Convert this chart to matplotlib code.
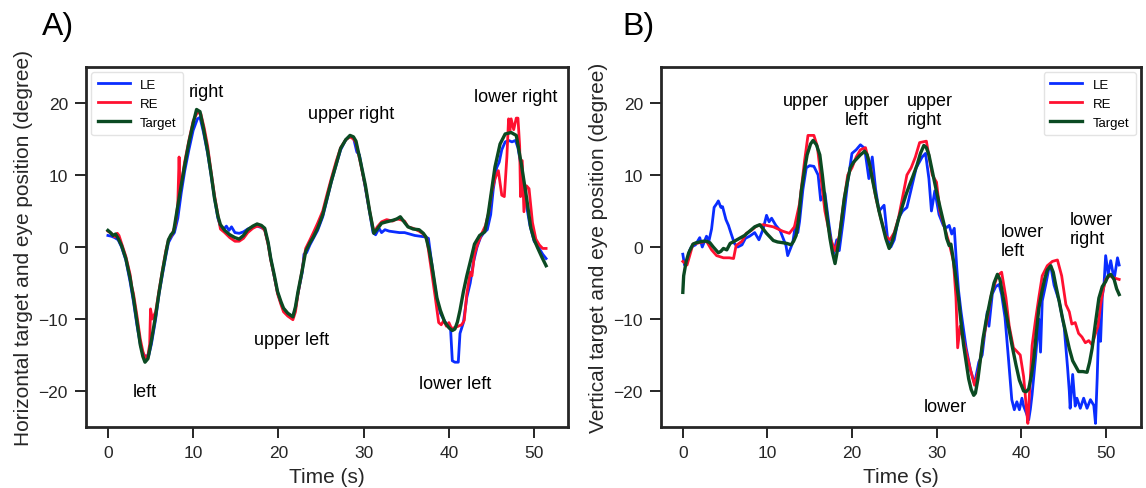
import matplotlib
matplotlib.use("Agg")
import matplotlib.pyplot as plt

plt.rcParams['font.family'] = ['Liberation Sans', 'DejaVu Sans']

# ---------------- Panel A (horizontal) ----------------
tA_target = [0.0, 0.3, 0.6, 0.9, 1.2, 1.6, 2.1, 2.6, 3.0, 3.4, 3.8, 4.1, 4.35, 4.7, 5.1, 5.6, 6.0, 6.4, 6.8,
             7.1, 7.4, 7.7, 8.1, 8.6, 9.0, 9.5, 10.0, 10.4, 10.8, 11.2, 11.7, 12.1, 12.5, 12.9, 13.2, 13.7,
             14.3, 14.9, 15.4, 15.9, 16.4, 17.0, 17.5, 18.0, 18.4, 18.8, 19.1, 19.5, 19.9, 20.3, 20.6, 21.1,
             21.7, 22.0, 22.3, 22.8, 23.2, 23.7, 24.1, 24.6, 25.2, 25.7, 26.2, 26.8, 27.3, 27.9, 28.4, 28.8,
             29.1, 29.6, 30.2, 30.7, 31.2, 31.6, 32.1, 32.7, 33.4, 33.9, 34.3, 34.8, 35.2, 35.8, 36.5, 37.0,
             37.3, 37.7, 38.0, 38.3, 38.6, 39.0, 39.5, 40.0, 40.4, 40.7, 41.0, 41.3, 41.7, 42.1, 42.6, 43.0,
             43.6, 44.2, 44.6, 45.0, 45.4, 46.0, 46.6, 47.3, 47.9, 48.5, 49.1, 49.6, 50.0, 50.4, 50.9,
             51.4]
yA_target = [2.3, 2.0, 1.6, 1.8, 1.2, 0.2, -1.6, -4.3, -7.1, -10.3, -13.6, -15.2, -16.0, -15.5, -13.0, -9.5,
             -6.3, -3.4, -0.8, 1.0, 1.7, 2.1, 5.0, 8.6, 11.3, 14.5, 17.2, 19.1, 18.8, 16.5, 13.3, 10.2, 6.8,
             4.3, 3.1, 2.3, 1.7, 1.3, 1.1, 1.6, 2.4, 2.9, 3.2, 3.0, 2.6, 0.6, -1.6, -3.8, -6.2, -7.6, -8.5,
             -9.2, -9.7, -8.3, -6.2, -3.2, -0.6, 0.6, 1.4, 2.6, 4.5, 6.8, 9.1, 11.6, 13.7, 14.9, 15.5, 15.3,
             14.7, 12.0, 8.6, 5.0, 1.9, 2.5, 3.3, 3.5, 3.7, 3.9, 4.2, 3.4, 2.8, 2.5, 2.4, 1.9, 1.4, -0.5,
             -2.5, -4.8, -7.1, -8.8, -10.4, -11.2, -11.6, -11.4, -10.4, -8.8, -6.2, -4.0, -1.6, 0.4,
             1.6, 2.1, 4.5, 7.8, 11.1, 14.3, 15.7, 15.9, 15.5, 11.5, 6.9, 2.7, 1.0, -0.1, -1.4, -2.6]

tA_le = [0.0, 0.4, 0.8, 1.2, 1.6, 2.1, 2.6, 3.0, 3.4, 3.8, 4.1, 4.4, 4.8, 5.1, 5.6, 6.0, 6.4, 6.8, 7.1, 7.5,
         7.8, 8.2, 8.6, 9.0, 9.5, 10.0, 10.5, 10.8, 11.2, 11.7, 12.1, 12.5, 12.9, 13.2, 13.6, 13.9, 14.2,
         14.5, 14.9, 15.4, 15.9, 16.4, 17.0, 17.5, 18.0, 18.4, 18.8, 19.1, 19.5, 19.9, 20.3, 20.6, 21.1,
         21.7, 22.0, 22.3, 22.8, 23.0, 23.3, 23.7, 24.1, 24.6, 25.2, 25.7, 26.2, 26.8, 27.3, 27.9, 28.4,
         28.8, 29.2, 29.5, 30.2, 30.7, 31.1, 31.4, 31.8, 32.1, 32.5, 33.0, 33.6, 34.2, 34.8, 35.4, 36.0,
         36.6, 37.2, 37.6, 37.9, 38.3, 38.6, 39.0, 39.5, 39.9, 40.2, 40.4, 40.7, 41.1, 41.3, 41.7, 42.1,
         42.5, 42.9, 43.3, 43.7, 44.1, 44.5, 44.9, 45.2, 45.6, 45.9, 46.2, 46.6, 47.0, 47.4, 47.8, 48.1,
         48.5, 49.0, 49.5, 50.0, 50.5, 51.0, 51.4]
yA_le = [1.6, 1.5, 1.3, 1.0, 0.0, -1.8, -4.8, -7.6, -10.8, -13.5, -14.8, -15.2, -15.0, -13.5, -10.0, -6.5,
         -3.8, -1.2, 0.6, 1.5, 2.0, 4.0, 7.5, 10.5, 13.5, 16.2, 17.8, 18.0, 16.0, 13.0, 10.0, 6.8, 4.0, 2.9,
         2.5, 2.9, 2.3, 2.8, 2.0, 1.9, 2.1, 2.5, 2.8, 2.9, 2.7, 2.4, 0.5, -1.6, -4.0, -6.3, -7.8, -8.6, -9.3,
         -9.6, -8.5, -6.4, -3.5, -1.0, -0.8, 0.3, 1.2, 2.3, 4.2, 6.6, 9.0, 11.5, 13.5, 14.9, 15.4, 15.2, 13.2,
         12.8, 8.2, 4.8, 2.0, 1.7, 2.6, 2.0, 2.4, 2.2, 2.1, 2.0, 2.0, 1.8, 1.6, 1.5, 1.4, 1.2, -1.5, -5.0,
         -7.3, -9.2, -10.3, -11.0, -11.5, -15.8, -16.0, -16.0, -12.0, -10.5, -7.0, -5.0, -2.0, 0.0, 1.3, 2.0,
         2.4, 4.5, 8.0, 11.0, 11.8, 13.5, 14.6, 14.8, 14.6, 14.8, 13.8, 11.0, 6.5, 3.0, 0.8, 0.0, -1.0,
         -1.6]

tA_re = [0.0, 0.4, 0.8, 1.1, 1.3, 1.6, 2.1, 2.6, 2.8, 3.0, 3.4, 3.8, 4.1, 4.4, 4.7, 4.9, 5.0, 5.2, 5.6, 6.0,
         6.4, 6.8, 7.1, 7.5, 7.9, 8.2, 8.35, 8.45, 8.7, 9.0, 9.5, 10.0, 10.5, 10.9, 11.3, 11.7, 12.1, 12.5,
         12.9, 13.2, 13.7, 14.3, 14.9, 15.4, 15.9, 16.4, 17.0, 17.5, 18.0, 18.4, 18.8, 19.1, 19.5, 19.9,
         20.3, 20.6, 21.1, 21.7, 22.0, 22.3, 22.8, 23.2, 23.7, 24.1, 24.6, 25.2, 25.7, 26.2, 26.8, 27.3,
         27.9, 28.4, 28.8, 29.1, 29.6, 30.2, 30.7, 31.2, 31.6, 32.1, 32.7, 33.4, 33.9, 34.3, 34.8, 35.2,
         35.8, 36.5, 37.0, 37.4, 37.8, 38.1, 38.4, 38.8, 39.1, 39.4, 39.7, 40.0, 40.3, 40.7, 41.1, 41.5,
         41.8, 42.1, 42.5, 42.7, 43.0, 43.4, 43.9, 44.3, 44.7, 45.0, 45.4, 45.8, 46.2, 46.5, 46.8, 47.0,
         47.15, 47.3, 47.6, 47.9, 48.1, 48.3, 48.4, 48.6, 48.8, 49.1, 49.4, 49.8, 50.2, 50.6, 51.0, 51.4]
yA_re = [2.2, 1.9, 1.4, 1.9, 1.6, 0.5, -1.3, -3.8, -5.5, -6.5, -9.5, -12.8, -14.5, -15.5, -15.0, -13.5,
         -8.6, -10.0, -9.0, -6.0, -3.2, -0.5, 1.0, 1.7, 3.0, 6.0, 12.5, 8.0, 9.5, 11.8, 14.8, 17.5, 18.7,
         18.5, 16.5, 14.0, 10.5, 7.2, 4.5, 2.5, 2.0, 1.3, 0.8, 0.8, 1.2, 2.0, 2.6, 2.9, 2.8, 2.3, 0.3, -1.8,
         -4.0, -6.5, -8.0, -9.0, -9.6, -10.1, -9.0, -6.5, -3.0, -0.2, 1.0, 2.0, 3.3, 5.0, 7.3, 9.5, 12.0,
         13.8, 14.9, 15.3, 15.0, 14.5, 11.8, 8.4, 5.0, 2.0, 2.8, 3.5, 3.8, 3.6, 3.9, 3.8, 3.6, 2.8, 2.6, 2.2,
         1.8, 1.2, -2.0, -4.5, -7.0, -10.5, -10.8, -10.2, -11.0, -10.5, -11.3, -11.2, -11.0, -10.8,
         -10.2, -6.5, -3.5, -4.0, -1.0, 0.5, 2.0, 3.0, 5.0, 7.5, 9.5, 10.6, 7.2, 7.0, 12.5, 17.8,
         16.0, 17.8, 16.3, 17.9, 17.9, 14.0, 7.0, 12.0, 4.9, 8.5, 8.1, 3.4, 1.1, 0.3, -0.2, -0.2]

# ---------------- Panel B (vertical) ----------------
tB_target = [0.0, 0.1, 0.4, 0.7, 1.2, 1.6, 2.0, 2.4, 2.8, 3.2, 3.6, 4.2, 4.5, 4.8, 5.2, 5.6, 6.1, 6.7,
             7.3, 7.9, 8.5, 9.1, 9.5, 9.9, 10.3, 10.7, 11.2, 11.8, 12.3, 12.8, 13.1, 13.4, 13.7,
             14.0, 14.4, 14.7, 15.1, 15.4, 15.8, 16.2, 16.5, 16.8, 17.1, 17.4, 17.7, 18.0, 18.2, 18.5, 18.8,
             19.1, 19.5, 19.8, 20.2, 20.6, 21.0, 21.5, 21.8, 22.1, 22.4, 22.8, 23.2, 23.6, 24.0, 24.4, 24.7,
             25.1, 25.5, 26.0, 26.4, 26.8, 27.2, 27.7, 28.1, 28.5, 28.8, 29.1, 29.5, 30.0, 30.4, 30.9, 31.2,
             31.5, 31.7, 31.9, 32.2, 32.6, 32.9, 33.2, 33.5, 33.8, 34.1, 34.4, 34.6, 34.9, 35.2, 35.5, 35.9,
             36.4, 36.8, 37.2, 37.5, 37.9, 38.5, 38.9, 39.4, 39.8, 40.3, 40.6, 40.9, 41.2, 41.5, 41.8, 42.1,
             42.5, 42.8, 43.1, 43.5, 43.8, 44.1, 44.5, 44.9, 45.3, 45.7, 46.1, 46.8, 47.3, 47.8, 48.1,
             48.4, 48.8, 49.2, 49.6, 50.0, 50.3, 50.6, 51.0, 51.3, 51.6]
yB_target = [-6.3, -4.0, -2.0, -0.8, 0.4, 0.6, 0.7, 0.8, 0.8, 0.6, 0.0, -0.8, -0.6, -0.2, -0.4, 0.5, 0.8,
             1.2, 1.6, 2.2, 2.8, 3.1, 2.5, 1.9, 1.4, 0.9, 0.7, 0.6, 0.5, 0.3, 0.8, 1.6, 4.0,
             7.7, 10.8, 12.8, 14.3, 14.8, 14.2, 12.8, 10.0, 6.8, 3.8, 1.2, -0.8, -2.3, -1.0, 1.2, 4.0, 6.8,
             9.3, 11.0, 11.8, 12.3, 12.8, 13.3, 12.8, 11.4, 9.5, 7.2, 5.0, 3.1, 1.2, -0.2, 0.6, 2.1, 3.8, 5.8,
             7.3, 8.6, 9.8, 11.4, 13.0, 14.1, 13.8, 12.8, 10.5, 7.7, 5.6, 3.1, 1.2, 0.2, 0.4, -1.1, -3.5, -7.1,
             -10.5, -13.6, -16.0, -18.3, -19.8, -20.6, -20.3, -18.3, -15.5, -12.7, -10.0, -7.1, -5.0, -3.8,
             -4.5, -7.1, -10.9, -13.5, -16.4, -18.5, -20.0, -20.1, -19.7, -18.0, -15.5, -12.0, -8.5, -6.0,
             -4.4, -3.2, -2.6, -3.5, -5.3, -7.5, -9.9, -12.0, -14.1, -15.8, -17.3, -17.3, -17.4, -16.0,
             -14.1, -10.5, -7.1, -5.5, -4.8, -4.0, -3.8, -4.5, -5.8, -6.6]

tB_le = [0.0, 0.2, 0.5, 0.8, 1.0, 1.5, 2.0, 2.3, 2.8, 3.1, 3.4, 3.7, 4.0, 4.2, 4.5, 4.7, 5.1, 5.4, 5.7,
         6.1, 6.5, 7.0, 7.4, 7.9, 8.5, 9.0, 9.5, 9.9, 10.2, 10.5, 11.0, 11.5, 12.2, 12.4, 13.0, 13.3,
         13.6, 13.8, 14.2, 14.6, 15.0, 15.5, 16.0, 16.3, 16.8, 17.3, 17.8, 18.2, 18.5, 19.0, 19.5, 20.0,
         20.5, 21.0, 21.5, 22.0, 22.4, 22.8, 23.2, 23.8, 24.2, 24.6, 25.0, 25.5, 26.0, 26.5, 27.0, 27.6,
         28.3, 28.7, 29.1, 29.4, 29.8, 30.3, 30.8, 31.2, 31.5, 31.8, 32.1, 32.4, 32.6, 32.9, 33.2, 33.5,
         34.0, 34.5, 35.0, 35.4, 35.8, 36.0, 36.2, 36.6, 37.0, 37.4, 37.7, 38.1, 38.5, 38.9, 39.2, 39.5,
         39.8, 40.1, 40.3, 40.6, 40.9, 41.1, 41.3, 41.7, 42.1, 42.3, 42.5, 42.9, 43.3, 43.5, 43.9, 44.5,
         45.1, 45.5, 45.7, 45.8, 46.1, 46.4, 46.6, 47.0, 47.4, 47.8, 48.2, 48.6, 48.8, 49.0, 49.2, 49.4,
         49.6, 49.8, 50.0, 50.3, 50.6, 51.0, 51.4, 51.6]
yB_le = [-1.0, -2.5, -2.0, -0.5, 0.0, 0.3, 1.3, 0.0, 1.5, 0.9, 2.5, 5.5, 6.0, 6.4, 5.5, 5.6, 3.8, 3.0,
         1.9, 0.5, 0.0, 0.3, 1.2, 1.5, 2.0, 1.0, 2.5, 4.4, 3.5, 4.0, 3.0, 2.3, 0.2, -1.2, 0.6, 3.0,
         2.0, 3.5, 8.0, 11.0, 11.3, 11.2, 10.0, 6.5, 7.5, 3.0, -1.0, 1.0, -0.5, 4.0, 9.0, 13.0, 13.5, 14.2,
         13.7, 9.5, 12.5, 8.0, 5.0, 5.8, 1.3, 0.0, 1.0, 4.0, 5.0, 5.5, 8.0, 11.0, 12.5, 13.0, 9.5, 5.0, 7.8,
         4.5, 3.0, 2.7, 3.0, 1.8, 2.6, -3.0, -6.0, -9.0, -11.5, -14.0, -17.0, -19.0, -16.0, -15.0,
         -11.0, -9.0, -11.0, -6.5, -5.5, -5.2, -6.6, -9.8, -15.4, -21.2, -22.6, -21.5, -22.6, -21.0, -22.1,
         -23.0, -24.0, -22.5, -20.5, -15.5, -10.0, -14.6, -7.5, -5.3, -2.9, -2.6, -5.3, -7.5, -11.2, -16.8,
         -20.0, -22.4, -17.7, -22.1, -21.0, -22.4, -21.0, -22.4, -21.2, -22.0, -24.5, -18.2, -10.2, -13.1,
         -6.9, -5.3, -1.2, -3.8, -1.9, -4.5, -1.5, -2.5]

tB_re = [0.0, 0.5, 1.2, 2.0, 2.8, 3.4, 4.0, 4.8, 5.5, 6.0, 6.3, 7.0, 7.5, 8.1, 8.7, 9.5, 10.7, 11.8,
         12.6, 13.2, 13.8, 14.4, 14.8, 15.5, 15.9, 16.3, 16.8, 17.5, 18.0, 18.5, 19.0, 19.5,
         20.0, 20.5, 21.0, 21.6, 22.2, 22.8, 23.4, 24.0, 24.5, 25.0, 25.5, 26.0, 26.5, 27.0, 27.5, 28.0,
         28.8, 29.2, 29.5, 30.0, 30.4, 31.0, 31.5, 32.0, 32.3, 32.5, 32.8, 33.4, 34.0, 34.5, 35.0, 35.5,
         36.0, 36.5, 37.2, 37.7, 38.2, 38.6, 39.1, 39.5, 39.9, 40.3, 40.6, 40.8, 41.3, 41.7, 42.1, 42.5,
         43.1, 43.7, 44.3, 44.8, 45.3, 45.7, 46.0, 46.4, 46.8, 47.2, 47.6, 48.0, 48.4, 48.8, 49.1, 49.4,
         49.7, 50.0, 50.5, 51.0, 51.6]
yB_re = [-2.0, -2.5, 0.4, 0.6, 0.8, -0.4, -1.2, -1.5, -1.5, -1.6, 0.2, 0.8, 1.9, 2.3, 2.9, 3.1, 2.8, 2.2,
         1.9, 2.8, 6.0, 12.0, 15.5, 15.5, 14.0, 10.0, 5.0, 1.0, -0.5, 1.5, 6.0, 10.0,
         11.0, 12.5, 13.5, 13.8, 11.0, 7.0, 4.0, 1.5, 1.0, 2.0, 4.0, 7.0, 10.0, 11.0, 12.5, 14.5, 14.7,
         12.0, 10.0, 9.0, 5.0, 2.5, 0.5, -2.0, -7.0, -14.0, -11.0, -14.0, -17.0, -19.2, -17.0, -13.0,
         -10.0, -6.5, -4.0, -3.5, -7.0, -11.0, -14.0, -14.5, -15.0, -18.0, -22.0, -24.5, -13.7, -10.2,
         -7.0, -4.0, -2.6, -2.0, -1.8, -4.0, -8.0, -9.0, -10.7, -10.5, -12.0, -12.5, -13.3, -13.0, -13.6,
         -12.0, -11.0, -8.0, -6.0, -4.5, -4.0, -4.3, -4.5]

labelsA = ['right', 'upper right', 'lower right', 'left', 'upper left', 'lower left']
labA_x = [11.5, 28.5, 47.8, 4.35, 21.5, 40.7]
labA_y = [21.6, 18.6, 20.9, -20.1, -12.9, -19.0]

labelsB = ['upper', 'upper\nleft', 'upper\nright', 'lower', 'lower\nleft', 'lower\nright']
labB_x = [11.8, 19.1, 26.5, 28.5, 37.6, 45.7]
labB_y = [20.4, 19.0, 19.0, -22.2, 0.85, 2.5]

C_LE = '#0a2dff'
C_RE = '#ff1030'
C_TG = '#0b4a22'
DARK = '#262626'

fig = plt.figure(figsize=(11.46, 4.89), dpi=100)
axA = fig.add_axes([86 / 1146, 61 / 489, 482 / 1146, 360 / 489])
axB = fig.add_axes([661 / 1146, 61 / 489, 480 / 1146, 360 / 489])


def style(ax, ylabel):
    for s in ax.spines.values():
        s.set_linewidth(2.0)
        s.set_color(DARK)
    ax.set_ylim(-25, 25)
    ax.set_yticks([-20, -10, 0, 10, 20])
    ax.set_xticks([0, 10, 20, 30, 40, 50])
    ax.tick_params(direction='out', length=8, width=1.4, color=DARK, labelsize=12.5,
                   labelcolor=DARK, pad=5)
    ax.set_xlabel('Time (s)', fontsize=15, color=DARK, labelpad=5)
    ax.set_ylabel(ylabel, fontsize=15, color=DARK, labelpad=4)


legend_kw = dict(fontsize=9.5, handlelength=2.4, borderpad=0.5, labelspacing=0.5,
                 borderaxespad=0.4, framealpha=0.8, edgecolor='#dddddd')

axA.plot(tA_le, yA_le, color=C_LE, lw=2, label='LE')
axA.plot(tA_re, yA_re, color=C_RE, lw=2, label='RE')
axA.plot(tA_target, yA_target, color=C_TG, lw=2.4, label='Target')
style(axA, 'Horizontal target and eye position (degree)')
for s, x, y in zip(labelsA, labA_x, labA_y):
    axA.text(x, y, s, ha='center', va='center', fontsize=13, color='black')
axA.legend(loc='upper left', **legend_kw)

axB.plot(tB_le, yB_le, color=C_LE, lw=2, label='LE')
axB.plot(tB_re, yB_re, color=C_RE, lw=2, label='RE')
axB.plot(tB_target, yB_target, color=C_TG, lw=2.4, label='Target')
style(axB, 'Vertical target and eye position (degree)')
for s, x, y in zip(labelsB, labB_x, labB_y):
    axB.text(x, y, s, ha='left', va='center', fontsize=13, color='black', linespacing=1.15)
axB.legend(loc='upper right', **legend_kw)

fig.text(42 / 1146, 1 - 35 / 489, 'A)', fontsize=23, ha='left', va='baseline', color='black')
fig.text(622 / 1146, 1 - 35 / 489, 'B)', fontsize=23, ha='left', va='baseline', color='black')

fig.savefig('out.png', dpi=100)
